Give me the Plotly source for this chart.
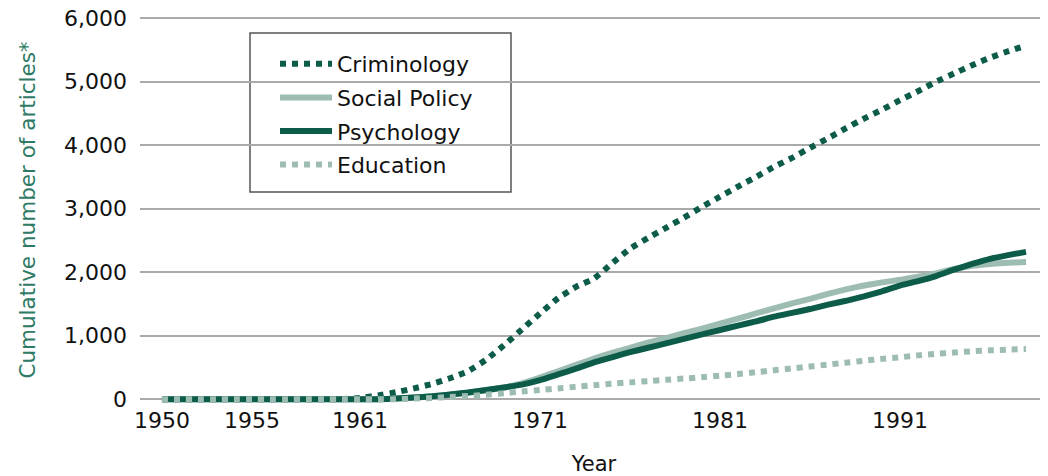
import plotly.graph_objects as go

years = list(range(1950, 1999))

criminology = [0]*11 + [20, 60, 110, 170, 240, 330, 440, 620, 850, 1100,
               1350, 1590, 1770, 1900, 2140, 2370, 2540, 2700, 2860, 3030,
               3190, 3350, 3500, 3660, 3800, 3960, 4110, 4270, 4420, 4560,
               4710, 4850, 5000, 5130, 5260, 5380, 5480, 5570]
social_policy = [0]*13 + [10, 25, 45, 70, 100, 140, 185, 250,
                 340, 440, 540, 640, 730, 810, 890, 960, 1040, 1110,
                 1190, 1270, 1350, 1430, 1510, 1580, 1660, 1730, 1790, 1840,
                 1880, 1930, 1980, 2050, 2100, 2130, 2150, 2160]
psychology = [0]*13 + [10, 25, 45, 75, 105, 145, 185, 230,
              300, 390, 480, 580, 660, 740, 810, 880, 950, 1020,
              1090, 1160, 1225, 1300, 1360, 1420, 1490, 1550, 1620, 1700,
              1790, 1860, 1940, 2040, 2130, 2210, 2270, 2320]
education = [0]*14 + [10, 20, 35, 50, 70, 95, 120,
             145, 170, 195, 220, 245, 265, 285, 305, 325, 345,
             370, 395, 425, 455, 485, 515, 545, 575, 605, 635,
             660, 690, 715, 735, 755, 770, 780, 790]

x_ticks = [1950, 1955, 1961, 1971, 1981, 1991]
y_ticks = [0, 1000, 2000, 3000, 4000, 5000, 6000]
y_tick_text = ["0", "1,000", "2,000", "3,000", "4,000", "5,000", "6,000"]

DARK = "#0d5c4a"
LIGHT = "#9dbdb3"
FONT = "DejaVu Sans"

fig = go.Figure()
series = [
    ("Criminology", criminology, DARK, "dot"),
    ("Social Policy", social_policy, LIGHT, "solid"),
    ("Psychology", psychology, DARK, "solid"),
    ("Education", education, LIGHT, "dot"),
]
for name, vals, col, dash in series:
    fig.add_trace(go.Scatter(
        x=years, y=vals, name=name, mode="lines", legendgroup=name,
        line=dict(color=col, width=6, dash=dash, shape="spline", smoothing=0.4),
    ))

# the page body has an 8px margin, so the figure is sized to fit inside the window
W, H = 1040, 468
ml, mr, mt, mb = 132, 0, 9, 73
pw, ph = W - ml - mr, H - mt - mb

def px(xp):
    return (xp - ml) / pw

def py(yp):
    return (H - mb - yp) / ph

fig.add_shape(type="rect", xref="paper", yref="paper",
              x0=px(242), x1=px(503), y0=py(184), y1=py(25),
              line=dict(color="#555555", width=1.5), fillcolor="white", layer="below")

fig.update_layout(
    width=W, height=H,
    margin=dict(l=ml, r=mr, t=mt, b=mb, autoexpand=False),
    paper_bgcolor="white", plot_bgcolor="white",
    font=dict(family=FONT, size=22, color="#111111"),
    showlegend=True,
    legend=dict(x=px(267), y=py(35), xanchor="left", yanchor="top",
                bgcolor="rgba(0,0,0,0)", borderwidth=0,
                tracegroupgap=2, itemwidth=52,
                font=dict(family=FONT, size=22, color="#111111")),
    xaxis=dict(range=[1948.78, 1999.22], tickvals=x_ticks, automargin=False,
               showgrid=False, zeroline=False, showline=False, ticks="",
               ticklabelstandoff=2,
               title=dict(text="Year", standoff=29,
                          font=dict(family=FONT, size=21, color="#111111"))),
    yaxis=dict(range=[-60, 6020], tickvals=y_ticks, ticktext=y_tick_text,
               automargin=False, ticklabeloverflow="allow",
               showgrid=True, gridcolor="#aaaaaa", gridwidth=2,
               zeroline=False, showline=False, ticks="",
               ticklabelstandoff=12,
               title=dict(text="Cumulative number of articles*", standoff=22,
                          font=dict(family=FONT, size=21.5, color="#2e7a64"))),
)

fig.write_html("out.html")
